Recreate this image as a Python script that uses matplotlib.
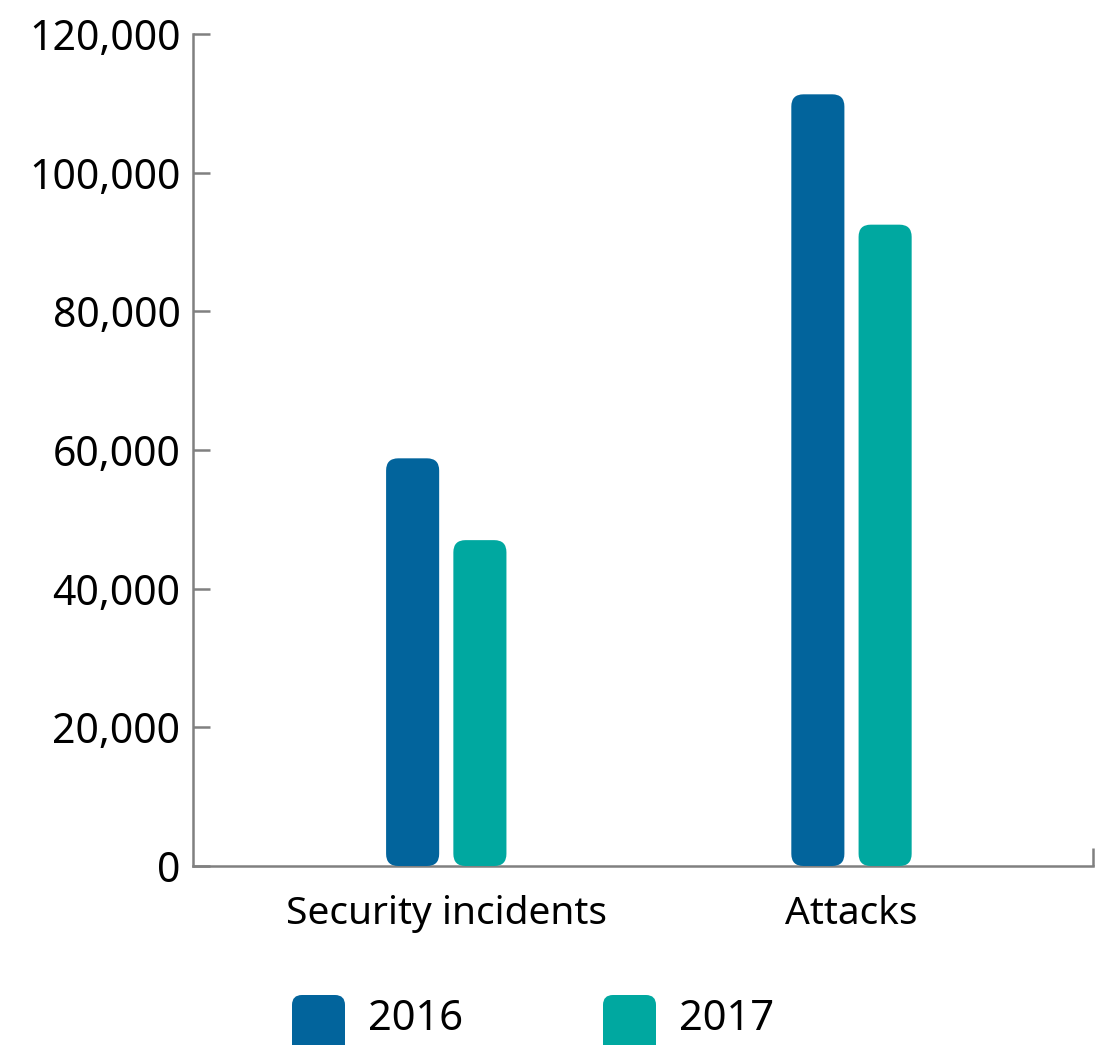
import matplotlib.pyplot as plt
import matplotlib.ticker as mticker
from matplotlib.patches import FancyBboxPatch
import numpy as np

plt.rcParams['font.family'] = ['Noto Sans', 'DejaVu Sans']

# dados
categorias = ['Security incidents', 'Attacks']
anos = ['2016', '2017']
valores_2016 = [58800, 111300]
valores_2017 = [47000, 92500]
cores = ['#02649c', '#00a8a0']

W, H = 1108, 1045
fig = plt.figure(figsize=(W / 100, H / 100), dpi=100)
ax = fig.add_axes([193 / W, 1 - 866 / H, (1093 - 193) / W, (866 - 34) / H])

xlim = (-0.625, 1.596)
ylim = (0, 120000)
ax.set_xlim(*xlim)
ax.set_ylim(*ylim)

# proporção para cantos arredondados (unidades y por unidade x em pixel)
larg_px = (1093 - 193)
alt_px = (866 - 34)
aspecto = ((ylim[1] - ylim[0]) / alt_px) / ((xlim[1] - xlim[0]) / larg_px)

x = np.arange(len(categorias))
largura = 0.131
desloc = 0.083

for serie, off, cor in [(valores_2016, -desloc, cores[0]), (valores_2017, desloc, cores[1])]:
    barras = ax.bar(x + off, serie, width=largura, color=cor)
    for b in barras:
        b.set_visible(False)
        p = FancyBboxPatch((b.get_x(), 0), b.get_width(), b.get_height(),
                           boxstyle="round,pad=0,rounding_size=0.03",
                           mutation_aspect=aspecto, facecolor=cor, edgecolor='none',
                           zorder=3)
        ax.add_patch(p)

# eixos
for s in ['top', 'right']:
    ax.spines[s].set_visible(False)
for s in ['left', 'bottom']:
    ax.spines[s].set_color('#808080')
    ax.spines[s].set_linewidth(1.8)

ax.set_yticks(np.arange(0, 120001, 20000))
ax.yaxis.set_major_formatter(mticker.FuncFormatter(lambda v, p: f'{int(v):,}'))
ax.tick_params(axis='y', direction='in', length=12, width=1.8, color='#808080',
               labelsize=29.5, pad=9, labelcolor='black')

ax.set_xticks(x)
ax.set_xticklabels(categorias)
ax.tick_params(axis='x', which='major', length=0, labelsize=28, pad=21)
ax.set_xticks([xlim[1]], minor=True)
ax.tick_params(axis='x', which='minor', direction='in', length=13, width=1.8,
               color='#808080')

# legenda manual com quadrados arredondados
leg_x = [292, 603]
for i, ano in enumerate(anos):
    q = FancyBboxPatch((leg_x[i] / W, 1 - 1060 / H), 53 / W, 65 / H,
                       boxstyle="round,pad=0,rounding_size=0.009",
                       mutation_aspect=W / H, facecolor=cores[i], edgecolor='none',
                       transform=fig.transFigure)
    fig.patches.append(q)
    fig.text((leg_x[i] + 76) / W, 1 - 1019 / H, ano, fontsize=30,
             va='center', ha='left')

fig.savefig('out.png', dpi=100)
